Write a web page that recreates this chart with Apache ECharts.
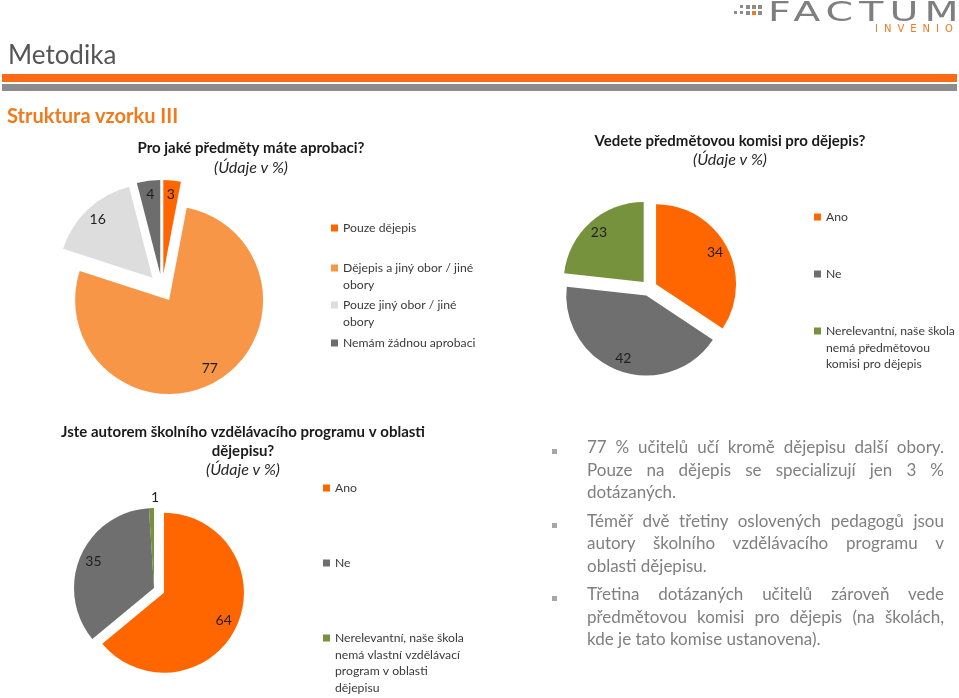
<!DOCTYPE html>
<html>
<head>
<meta charset="utf-8">
<script src="https://cdn.jsdelivr.net/npm/echarts/dist/echarts.min.js"></script>
<style>
html,body{margin:0;padding:0;width:959px;height:698px;overflow:hidden;background:#fff;font-family:Lato,sans-serif;}
#chart{position:absolute;left:0;top:0;width:959px;height:698px;}
.abs{position:absolute;white-space:nowrap;}
#bullets{position:absolute;left:587px;top:436px;width:357px;color:#7f7f7f;font-size:17px;line-height:22.5px;font-family:Lato,sans-serif;}
#bullets .p{position:relative;margin-top:6px;}
#bullets .p:first-child{margin-top:0;}
#bullets .p::before{content:"";position:absolute;left:-35px;top:13px;width:5px;height:5px;background:#a6a6a6;}
#bullets .j{text-align:justify;text-align-last:justify;}
#bullets .l{text-align:left;}
.dot{position:absolute;width:4px;height:4px;background:#8c8c8c;}
</style>
</head>
<body>
<div id="chart"></div>

<!-- header -->
<div class="abs" style="left:8px;top:39px;font-size:26px;line-height:30px;color:#555555;">Metodika</div>
<div class="abs" style="left:2px;top:74px;width:955px;height:8px;background:#fd6a16;"></div>
<div class="abs" style="left:2px;top:84px;width:955px;height:7px;background:#8c8c8c;"></div>
<div class="abs" style="left:7px;top:103px;font-size:20px;line-height:24px;font-weight:bold;color:#f07a1c;">Struktura vzorku III</div>

<!-- logo -->
<div class="abs" style="left:768px;top:-3px;font-family:'DejaVu Sans';font-size:26px;line-height:30px;color:#7f7f7f;letter-spacing:4px;transform:scaleX(1.52);transform-origin:0 0;">FACTUM</div>
<div class="abs" style="left:875px;top:22px;font-family:'DejaVu Sans';font-size:10px;line-height:13px;color:#f07a1c;letter-spacing:6px;">INVENIO</div>
<div class="dot" style="left:734px;top:11px;width:3px;height:3px;"></div>
<div class="dot" style="left:740px;top:5px;width:3px;height:3px;"></div>
<div class="dot" style="left:740px;top:11px;width:3px;height:3px;"></div>
<div class="dot" style="left:746px;top:5px;"></div>
<div class="dot" style="left:746px;top:11px;"></div>
<div class="dot" style="left:752px;top:5px;"></div>
<div class="dot" style="left:752px;top:11px;background:#f07a1c;"></div>
<div class="dot" style="left:758px;top:5px;"></div>
<div class="dot" style="left:758px;top:11px;"></div>

<!-- bullet text -->
<div id="bullets">
  <div class="p">
    <div class="j">77 % učitelů učí kromě dějepisu další obory.</div>
    <div class="j">Pouze na dějepis se specializují jen 3 %</div>
    <div class="l">dotázaných.</div>
  </div>
  <div class="p">
    <div class="j">Téměř dvě třetiny oslovených pedagogů jsou</div>
    <div class="j">autory školního vzdělávacího programu v</div>
    <div class="l">oblasti dějepisu.</div>
  </div>
  <div class="p">
    <div class="j">Třetina dotázaných učitelů zároveň vede</div>
    <div class="j">předmětovou komisi pro dějepis (na školách,</div>
    <div class="l">kde je tato komise ustanovena).</div>
  </div>
</div>

<script>
// ---------------- data ----------------
const q1Title = 'Pro jaké předměty máte aprobaci?';
const q1Categories = ['Pouze dějepis', 'Dějepis a jiný obor / jiné obory', 'Pouze jiný obor / jiné obory', 'Nemám žádnou aprobaci'];
const q1Values = [3, 77, 16, 4];

const q2Title = 'Vedete předmětovou komisi pro dějepis?';
const q2Categories = ['Ano', 'Ne', 'Nerelevantní, naše škola nemá předmětovou komisi pro dějepis'];
const q2Values = [34, 42, 23];

const q3Title = 'Jste autorem školního vzdělávacího programu v oblasti\ndějepisu?';
const q3Categories = ['Ano', 'Ne', 'Nerelevantní, naše škola nemá vlastní vzdělávací program v oblasti dějepisu'];
const q3Values = [64, 35, 1];

const unitNote = '(Údaje v %)';

// legend text wrapping (as in the original)
const legendWrap = {
  'Dějepis a jiný obor / jiné obory': 'Dějepis a jiný obor / jiné\nobory',
  'Pouze jiný obor / jiné obory': 'Pouze jiný obor / jiné\nobory',
  'Nerelevantní, naše škola nemá předmětovou komisi pro dějepis': 'Nerelevantní, naše škola\nnemá předmětovou\nkomisi pro dějepis',
  'Nerelevantní, naše škola nemá vlastní vzdělávací program v oblasti dějepisu': 'Nerelevantní, naše škola\nnemá vlastní vzdělávací\nprogram v oblasti\ndějepisu'
};

// ---------------- styling ----------------
const FONT = 'Lato';
const q1Colors = ['#ff6600', '#f79646', '#dddddd', '#6d6d6d'];
const q23Colors = ['#ff6600', '#6f6f6f', '#76923c'];
const LABEL_COLOR = '#1f1f1f';
const LEGEND_COLOR = '#3a3a3a';
const LH = 16.7;

function pieSeries(cats, vals, colors, center, radius, offset, selectedIdx, ringInner, itemLabelOverrides) {
  const visible = {
    type: 'pie', center: center, radius: radius, startAngle: 90, clockwise: true,
    selectedMode: 'multiple', selectedOffset: offset, avoidLabelOverlap: false,
    silent: true, emphasis: { disabled: true, scale: false },
    label: { show: false }, labelLine: { show: false },
    data: cats.map((n, i) => ({ name: n, value: vals[i], selected: selectedIdx.indexOf(i) >= 0, itemStyle: { color: colors[i] } }))
  };
  const labels = {
    type: 'pie', center: center, radius: [ringInner, radius], startAngle: 90, clockwise: true,
    selectedMode: 'multiple', selectedOffset: offset, avoidLabelOverlap: false,
    silent: true, emphasis: { disabled: true, scale: false },
    itemStyle: { color: 'rgba(0,0,0,0)' },
    label: { show: true, position: 'inside', formatter: '{c}', color: LABEL_COLOR, fontSize: 14, fontFamily: FONT },
    labelLine: { show: false },
    data: cats.map((n, i) => {
      const d = { name: n, value: vals[i], selected: selectedIdx.indexOf(i) >= 0 };
      if (itemLabelOverrides && itemLabelOverrides[i]) Object.assign(d, itemLabelOverrides[i]);
      return d;
    })
  };
  return [visible, labels];
}

// The icon sits on the first text line: blank lines are prepended so that
// the vertically centred text block puts its first real line at the icon.
function legendText(name) {
  const lines = (legendWrap[name] || name).split('\n');
  const pad = [];
  for (let k = 1; k < lines.length; k++) pad.push('\u200b');
  return pad.concat(lines).join('\n');
}

function legendsFor(cats, iconLeft, centersY) {
  return cats.map((name, i) => {
    const n = (legendWrap[name] || name).split('\n').length;
    const H = (2 * n - 1) * LH;
    return {
      show: true, orient: 'vertical', left: iconLeft, top: centersY[i] - H / 2, padding: 0,
      itemWidth: 7, itemHeight: 7, icon: 'rect', selectedMode: false,
      data: [name],
      formatter: legendText,
      textStyle: { fontFamily: FONT, fontSize: 12.2, color: LEGEND_COLOR, lineHeight: LH }
    };
  });
}

function titleFor(text, x, top, gap) {
  return {
    text: text, subtext: unitNote, left: x, top: top, textAlign: 'center', padding: 0, itemGap: gap,
    textStyle: { fontFamily: FONT, fontSize: 15, fontWeight: 'bold', color: '#1a1a1a', lineHeight: 19 },
    subtextStyle: { fontFamily: FONT, fontSize: 16, fontStyle: 'italic', color: '#262626', lineHeight: 19 }
  };
}

const chart = echarts.init(document.getElementById('chart'));
const option = {
  animation: false,
  backgroundColor: 'transparent',
  textStyle: { fontFamily: FONT },
  title: [
    titleFor(q1Title, 251, 138.5, 1),
    titleFor(q2Title, 730, 131.5, 0),
    titleFor(q3Title, 243, 422.5, 0)
  ],
  legend: [].concat(
    legendsFor(q1Categories, 331, [228, 268, 305, 343]),
    legendsFor(q2Categories, 814, [217, 274, 331]),
    legendsFor(q3Categories, 323, [488, 563, 638])
  ),
  series: [].concat(
    pieSeries(q1Categories, q1Values, q1Colors, [162, 288], 94, 14, [0, 1, 2, 3], 60),
    pieSeries(q2Categories, q2Values, q23Colors, [649, 288], 80, 8, [0, 1, 2], 48),
    pieSeries(q3Categories, q3Values, q23Colors, [154, 588], 80, 11, [0], 46,
      { 2: { label: { position: 'outside', distanceToLabelLine: -8 }, labelLine: { show: false, length: 11, length2: 0 } } })
  )
};
chart.setOption(option);
</script>
</body>
</html>
